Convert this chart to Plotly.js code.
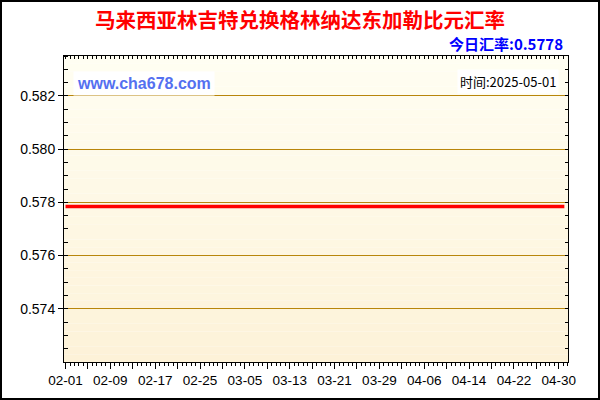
<!DOCTYPE html>
<html>
<head>
<meta charset="utf-8">
<script src="https://cdn.plot.ly/plotly-3.0.1.min.js"></script>
<style>
  html, body { margin: 0; padding: 0; background: #fff; }
  #wrap { position: relative; width: 600px; height: 400px; }
  #chart { width: 600px; height: 400px; }
  #frame { position: absolute; left: 0; top: 0; width: 600px; height: 400px;
           box-sizing: border-box; border: 2px solid #000; pointer-events: none; }
</style>
</head>
<body>
<div id="wrap"><div id="chart"></div><div id="frame"></div></div>
<script>
// ---- data ----
const dates = [
  '2025-02-01','2025-02-02','2025-02-03','2025-02-04','2025-02-05','2025-02-06','2025-02-07',
  '2025-02-08','2025-02-09','2025-02-10','2025-02-11','2025-02-12','2025-02-13','2025-02-14',
  '2025-02-15','2025-02-16','2025-02-17','2025-02-18','2025-02-19','2025-02-20','2025-02-21',
  '2025-02-22','2025-02-23','2025-02-24','2025-02-25','2025-02-26','2025-02-27','2025-02-28',
  '2025-03-01','2025-03-02','2025-03-03','2025-03-04','2025-03-05','2025-03-06','2025-03-07',
  '2025-03-08','2025-03-09','2025-03-10','2025-03-11','2025-03-12','2025-03-13','2025-03-14',
  '2025-03-15','2025-03-16','2025-03-17','2025-03-18','2025-03-19','2025-03-20','2025-03-21',
  '2025-03-22','2025-03-23','2025-03-24','2025-03-25','2025-03-26','2025-03-27','2025-03-28',
  '2025-03-29','2025-03-30','2025-03-31','2025-04-01','2025-04-02','2025-04-03','2025-04-04',
  '2025-04-05','2025-04-06','2025-04-07','2025-04-08','2025-04-09','2025-04-10','2025-04-11',
  '2025-04-12','2025-04-13','2025-04-14','2025-04-15','2025-04-16','2025-04-17','2025-04-18',
  '2025-04-19','2025-04-20','2025-04-21','2025-04-22','2025-04-23','2025-04-24','2025-04-25',
  '2025-04-26','2025-04-27','2025-04-28','2025-04-29','2025-04-30','2025-05-01'
];
const rates = [
  0.57784,0.57784,0.57784,0.57784,0.57784,0.57784,0.57784,
  0.57784,0.57784,0.57784,0.57784,0.57784,0.57784,0.57784,
  0.57784,0.57784,0.57784,0.57784,0.57784,0.57784,0.57784,
  0.57784,0.57784,0.57784,0.57784,0.57784,0.57784,0.57784,
  0.57784,0.57784,0.57784,0.57784,0.57784,0.57784,0.57784,
  0.57784,0.57784,0.57784,0.57784,0.57784,0.57784,0.57784,
  0.57784,0.57784,0.57784,0.57784,0.57784,0.57784,0.57784,
  0.57784,0.57784,0.57784,0.57784,0.57784,0.57784,0.57784,
  0.57784,0.57784,0.57784,0.57784,0.57784,0.57784,0.57784,
  0.57784,0.57784,0.57784,0.57784,0.57784,0.57784,0.57784,
  0.57784,0.57784,0.57784,0.57784,0.57784,0.57784,0.57784,
  0.57784,0.57784,0.57784,0.57784,0.57784,0.57784,0.57784,
  0.57784,0.57784,0.57784,0.57784,0.57784,0.57784
];
const labelDates = ['2025-02-01','2025-02-09','2025-02-17','2025-02-25','2025-03-05','2025-03-13',
                    '2025-03-21','2025-03-29','2025-04-06','2025-04-14','2025-04-22','2025-04-30'];
const tickLabels = ['02-01','02-09','02-17','02-25','03-05','03-13',
                    '03-21','03-29','04-06','04-14','04-22','04-30'];
const midTickDates = ['2025-02-05','2025-02-13','2025-02-21','2025-03-01','2025-03-09','2025-03-17',
                      '2025-03-25','2025-04-02','2025-04-10','2025-04-18','2025-04-26'];
const yTicks = [0.574, 0.576, 0.578, 0.580, 0.582];
const yTickLabels = ['0.574', '0.576', '0.578', '0.580', '0.582'];

const titleText = '马来西亚林吉特兑换格林纳达东加勒比元汇率';
const todayText = '今日汇率:0.5778';
const siteText = 'www.cha678.com';
const timeText = '时间:2025-05-01';

// ---- build ticks ----
const tickvals = [], ticktext = [];
labelDates.forEach((d, i) => { tickvals.push(d); ticktext.push(tickLabels[i]); });
midTickDates.forEach(d => { tickvals.push(d); ticktext.push(''); });

const DAY = 86400000;
const xRange = ['2025-01-31 17:30', '2025-05-01 15:36'];
const yRange = [0.572, 0.5835];

// ---- background gradient bands ----
const shapes = [];
const N = 40;
const topColor = [255, 254, 242], botColor = [253, 242, 216];
for (let i = 0; i < N; i++) {
  const t = (i + 0.5) / N; // 0 bottom -> 1 top
  const c = botColor.map((b, k) => Math.round(b + (topColor[k] - b) * t));
  shapes.push({
    type: 'rect', xref: 'paper', yref: 'paper', layer: 'below',
    x0: 0, x1: 1, y0: i / N, y1: (i + 1) / N,
    fillcolor: `rgb(${c[0]},${c[1]},${c[2]})`, line: { width: 0 }
  });
}

const tickFont = { family: 'Liberation Sans, Arial, sans-serif', size: 13.5, color: '#000' };

const traces = [
  {
    x: dates, y: rates, type: 'scatter', mode: 'lines',
    line: { color: '#FF0000', width: 3.5 }, hoverinfo: 'x+y', showlegend: false
  },
  { x: [], y: [], type: 'scatter', mode: 'lines', xaxis: 'x2', yaxis: 'y2',
    hoverinfo: 'skip', showlegend: false }
];

const layout = {
  width: 600, height: 400,
  margin: { l: 64, r: 32, t: 56, b: 38, pad: 0 },
  paper_bgcolor: '#FFFFFF', plot_bgcolor: 'rgba(0,0,0,0)',
  showlegend: false,
  title: {
    text: '<b>' + titleText + '</b>',
    font: { family: 'Noto Sans CJK SC, sans-serif', size: 20.5, color: '#FF0000' },
    xref: 'container', yref: 'container', x: 0.5, xanchor: 'center',
    y: 1 - 21 / 400, yanchor: 'middle'
  },
  xaxis: {
    type: 'date', range: xRange, tickmode: 'array', tickvals: tickvals, ticktext: ticktext,
    ticks: 'outside', ticklen: 6, tickwidth: 1, tickcolor: '#000',
    minor: { dtick: 0.8 * DAY, tick0: '2025-02-01', ticks: 'outside', ticklen: 3,
             tickwidth: 1, tickcolor: '#000', showgrid: false },
    showline: true, linecolor: '#000', linewidth: 1,
    showgrid: false, zeroline: false, tickfont: tickFont, fixedrange: true
  },
  yaxis: {
    range: yRange, tickmode: 'array', tickvals: yTicks, ticktext: yTickLabels,
    ticks: 'outside', ticklen: 5, tickwidth: 1, tickcolor: '#000',
    minor: { dtick: 0.0005, tick0: 0.572, ticks: 'inside', ticklen: 4,
             tickwidth: 1, tickcolor: '#000', showgrid: false },
    showline: true, linecolor: '#000', linewidth: 1,
    showgrid: true, gridcolor: '#B8860B', gridwidth: 1,
    zeroline: false, tickfont: { family: 'Liberation Sans, Arial, sans-serif', size: 14, color: '#000' },
    fixedrange: true
  },
  xaxis2: {
    type: 'date', overlaying: 'x', anchor: 'y2', side: 'top', range: xRange,
    tick0: '2025-02-01', dtick: 0.8 * DAY, ticks: 'inside', ticklen: 3, tickcolor: '#000',
    showticklabels: false, showline: true, linecolor: '#000', showgrid: false, zeroline: false,
    fixedrange: true
  },
  yaxis2: {
    overlaying: 'y', anchor: 'x2', side: 'right', range: yRange,
    tick0: 0.572, dtick: 0.0005, ticks: 'inside', ticklen: 3, tickcolor: '#000',
    showticklabels: false, showline: true, linecolor: '#000', showgrid: false, zeroline: false,
    fixedrange: true
  },
  shapes: shapes,
  annotations: [
    {
      text: '<b>' + todayText + '</b>', xref: 'paper', yref: 'paper',
      x: (565 - 64) / 504, xanchor: 'right', y: (362 - 43.5) / 306, yanchor: 'middle',
      showarrow: false,
      font: { family: 'Noto Sans CJK SC, Liberation Sans, sans-serif', size: 15, color: '#0000FF' }
    },
    {
      text: '<b>' + siteText + '</b>', xref: 'paper', yref: 'paper',
      x: (73 - 64) / 504, xanchor: 'left', y: (362 - 83) / 306, yanchor: 'middle',
      showarrow: false, bgcolor: '#FFFFFF', borderpad: 3,
      font: { family: 'Liberation Sans, Arial, sans-serif', size: 16, color: '#5470F0' }
    },
    {
      text: timeText, xref: 'paper', yref: 'paper',
      x: (559 - 64) / 504, xanchor: 'right', y: (362 - 81) / 306, yanchor: 'middle',
      showarrow: false, bgcolor: '#FFFFFF', borderpad: 2,
      font: { family: 'Noto Sans CJK SC, sans-serif', size: 13, color: '#000' }
    }
  ]
};

Plotly.newPlot('chart', traces, layout, { displayModeBar: false, staticPlot: true });
</script>
</body>
</html>
